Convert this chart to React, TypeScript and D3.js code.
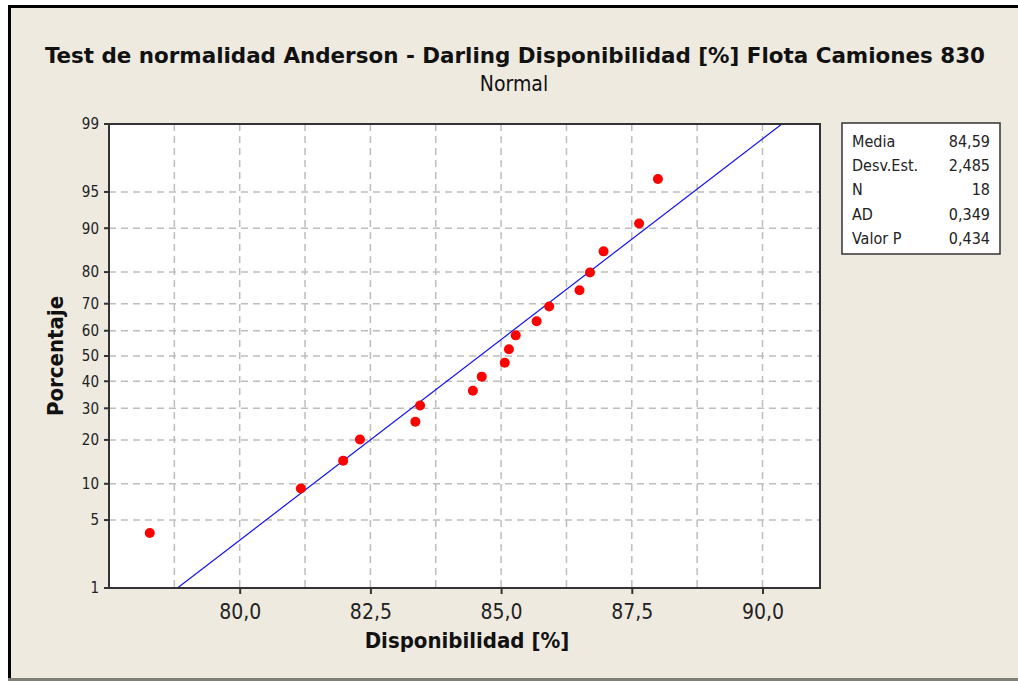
import { useEffect, useRef } from 'react'
import * as d3 from 'd3'

// valores
const disponibilidad = [78.28, 81.17, 81.98, 82.3, 83.36, 83.45, 84.46, 84.63, 85.07, 85.15, 85.28, 85.68, 85.92, 86.5, 86.7, 86.96, 87.64, 88.0]
const porcentaje = [3.8, 9.2, 14.7, 20.1, 25.5, 31.0, 36.4, 41.8, 47.3, 52.7, 58.2, 63.6, 69.0, 74.5, 79.9, 85.3, 90.8, 96.2]
const yTicks = [1, 5, 10, 20, 30, 40, 50, 60, 70, 80, 90, 95, 99]
const xTicks = [80, 82.5, 85, 87.5, 90]
const xGrid = [78.75, 80, 81.25, 82.5, 83.75, 85, 86.25, 87.5, 88.75, 90]
const statLabels = ['Media', 'Desv.Est.', 'N', 'AD', 'Valor P']
const statValues = ['84,59', '2,485', '18', '0,349', '0,434']
const media = 84.59
const desv = 2.485

// inversa de la normal (Acklam)
function probit(p: number) {
  const a = [-39.69683028665376, 220.9460984245205, -275.9285104469687, 138.357751867269, -30.66479806614716, 2.506628277459239]
  const b = [-54.47609879822406, 161.5858368580409, -155.6989798598866, 66.80131188771972, -13.28068155288572]
  const c = [-0.007784894002430293, -0.3223964580411365, -2.400758277161838, -2.549732539343734, 4.374664141464968, 2.938163982698783]
  const d = [0.007784695709041462, 0.3224671290700398, 2.445134137142996, 3.754408661907416]
  const pl = 0.02425
  if (p < pl) {
    const q = Math.sqrt(-2 * Math.log(p))
    return (((((c[0] * q + c[1]) * q + c[2]) * q + c[3]) * q + c[4]) * q + c[5]) / ((((d[0] * q + d[1]) * q + d[2]) * q + d[3]) * q + 1)
  }
  if (p > 1 - pl) {
    const q = Math.sqrt(-2 * Math.log(1 - p))
    return -(((((c[0] * q + c[1]) * q + c[2]) * q + c[3]) * q + c[4]) * q + c[5]) / ((((d[0] * q + d[1]) * q + d[2]) * q + d[3]) * q + 1)
  }
  const q = p - 0.5
  const r = q * q
  return (((((a[0] * r + a[1]) * r + a[2]) * r + a[3]) * r + a[4]) * r + a[5]) * q / (((((b[0] * r + b[1]) * r + b[2]) * r + b[3]) * r + b[4]) * r + 1)
}

const fmt = (v: number) => v.toFixed(1).replace('.', ',')

export default function App() {
  const svgRef = useRef<SVGSVGElement>(null)

  useEffect(() => {
    if (!svgRef.current) return
    const svg = d3.select(svgRef.current)
    svg.selectAll('*').remove()

    const width = 1018
    const height = 681
    const font = 'Tahoma, "DejaVu Sans Condensed", "DejaVu Sans", sans-serif'

    // fondo y marco
    svg.append('rect').attr('width', width).attr('height', height).attr('fill', '#fff')
    svg.append('rect').attr('x', 8).attr('y', 5).attr('width', width - 8).attr('height', 676).attr('fill', '#EEEAE0')
    svg.append('rect').attr('x', 8).attr('y', 5).attr('width', width - 8).attr('height', 3).attr('fill', '#000')
    svg.append('rect').attr('x', 8).attr('y', 5).attr('width', 3).attr('height', 676).attr('fill', '#000')
    svg.append('rect').attr('x', 8).attr('y', 678).attr('width', width - 8).attr('height', 3).attr('fill', '#808078')

    const plot = { left: 109, right: 820, top: 124, bottom: 588 }

    const x = d3.scaleLinear().domain([77.5, 91.1]).range([plot.left, plot.right])
    const yz = d3.scaleLinear().domain([probit(0.01), probit(0.99)]).range([plot.bottom, plot.top])
    const y = (p: number) => yz(probit(p / 100))

    svg.append('rect')
      .attr('x', plot.left).attr('y', plot.top)
      .attr('width', plot.right - plot.left).attr('height', plot.bottom - plot.top)
      .attr('fill', '#fff')

    // rejilla
    const grid = svg.append('g').attr('stroke', '#BDBDBD').attr('stroke-width', 1.5).attr('stroke-dasharray', '7,5')
    grid.selectAll('.gx').data(xGrid).enter().append('line')
      .attr('x1', d => x(d)).attr('x2', d => x(d))
      .attr('y1', plot.top).attr('y2', plot.bottom)
    grid.selectAll('.gy').data(yTicks.slice(1, -1)).enter().append('line')
      .attr('x1', plot.left).attr('x2', plot.right)
      .attr('y1', d => y(d)).attr('y2', d => y(d))

    // recta ajustada
    const zLo = probit(0.01)
    const zHi = probit(0.99)
    const defs = svg.append('defs')
    defs.append('clipPath').attr('id', 'clip').append('rect')
      .attr('x', plot.left).attr('y', plot.top)
      .attr('width', plot.right - plot.left).attr('height', plot.bottom - plot.top)
    svg.append('line')
      .attr('clip-path', 'url(#clip)')
      .attr('x1', x(media + desv * zLo)).attr('y1', yz(zLo))
      .attr('x2', x(media + desv * zHi)).attr('y2', yz(zHi))
      .attr('stroke', '#1010F0').attr('stroke-width', 1.2)

    // puntos
    svg.selectAll('.pt').data(disponibilidad).enter().append('circle')
      .attr('cx', d => x(d))
      .attr('cy', (_, i) => y(porcentaje[i]))
      .attr('r', 5)
      .attr('fill', '#FF0000')

    // marco del grafico
    svg.append('rect')
      .attr('x', plot.left).attr('y', plot.top)
      .attr('width', plot.right - plot.left).attr('height', plot.bottom - plot.top)
      .attr('fill', 'none').attr('stroke', '#333').attr('stroke-width', 2)

    // eje x
    const xAxis = svg.append('g').attr('transform', `translate(0,${plot.bottom})`)
      .call(d3.axisBottom(x).tickValues(xTicks).tickFormat(d => fmt(+d)).tickSize(6).tickSizeOuter(0))
    xAxis.select('.domain').remove()
    xAxis.selectAll('line').attr('stroke', '#333').attr('stroke-width', 2)
    xAxis.selectAll('text').attr('font-family', font).attr('font-size', 21).attr('fill', '#222')
      .attr('y', 31).attr('dy', 0)

    // eje y
    const yt = svg.append('g')
    yt.selectAll('line').data(yTicks).enter().append('line')
      .attr('x1', plot.left - 5).attr('x2', plot.left)
      .attr('y1', d => y(d)).attr('y2', d => y(d))
      .attr('stroke', '#333').attr('stroke-width', 2)
    yt.selectAll('text').data(yTicks).enter().append('text')
      .attr('x', plot.left - 10).attr('y', d => y(d))
      .attr('dy', '0.36em').attr('text-anchor', 'end')
      .attr('font-family', font).attr('font-size', 15).attr('fill', '#222')
      .text(d => d)

    // titulos
    svg.append('text').attr('x', 515).attr('y', 63).attr('text-anchor', 'middle')
      .attr('font-family', font).attr('font-weight', 'bold').attr('font-size', 22).attr('fill', '#111')
      .attr('textLength', 940).attr('lengthAdjust', 'spacingAndGlyphs')
      .text('Test de normalidad Anderson - Darling Disponibilidad [%] Flota Camiones 830')
    svg.append('text').attr('x', 514).attr('y', 91).attr('text-anchor', 'middle')
      .attr('font-family', font).attr('font-size', 21).attr('fill', '#111')
      .text('Normal')
    svg.append('text').attr('x', 467).attr('y', 648).attr('text-anchor', 'middle')
      .attr('font-family', font).attr('font-weight', 'bold').attr('font-size', 22).attr('fill', '#111')
      .text('Disponibilidad [%]')
    svg.append('text').attr('transform', `translate(63,${(plot.top + plot.bottom) / 2}) rotate(-90)`)
      .attr('text-anchor', 'middle')
      .attr('font-family', font).attr('font-weight', 'bold').attr('font-size', 22).attr('fill', '#111')
      .text('Porcentaje')

    // tabla de estadisticos
    const leg = svg.append('g')
    leg.append('rect').attr('x', 842).attr('y', 123).attr('width', 158).attr('height', 131)
      .attr('fill', '#fff').attr('stroke', '#333').attr('stroke-width', 1.5)
    statLabels.forEach((s, i) => {
      const yy = 147 + i * 24.2
      leg.append('text').attr('x', 852).attr('y', yy)
        .attr('font-family', font).attr('font-size', 16).attr('fill', '#222').text(s)
      leg.append('text').attr('x', 990).attr('y', yy).attr('text-anchor', 'end')
        .attr('font-family', font).attr('font-size', 16).attr('fill', '#222').text(statValues[i])
    })
  }, [])

  return (
    <svg ref={svgRef} width={1018} height={681} style={{ position: 'absolute', left: 0, top: 0 }} />
  )
}
